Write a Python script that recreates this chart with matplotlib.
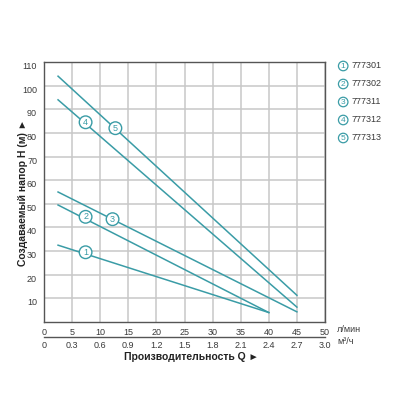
import matplotlib
matplotlib.use("Agg")
import matplotlib.pyplot as plt
import matplotlib.transforms as mtransforms

plt.rcParams["font.family"] = ["Liberation Sans", "DejaVu Sans"]

# pump curves: flow (l/min) -> head (m)
models = ["777301", "777302", "777311", "777312", "777313"]
flow_1 = [2.5, 40]
head_1 = [32.5, 4]
flow_2 = [2.5, 40]
head_2 = [49.5, 4]
flow_3 = [2.5, 45]
head_3 = [55, 4.3]
flow_4 = [2.5, 45]
head_4 = [94, 6.3]
flow_5 = [2.5, 45]
head_5 = [104, 11.3]
label_x = [7.4, 7.4, 12.2, 7.4, 12.7]
label_y = [29.5, 44.5, 43.5, 84.5, 82]

x_ticks = [0, 5, 10, 15, 20, 25, 30, 35, 40, 45, 50]
m3h_ticks = [0, 0.3, 0.6, 0.9, 1.2, 1.5, 1.8, 2.1, 2.4, 2.7, 3.0]
m3h_labels = ["0", "0.3", "0.6", "0.9", "1.2", "1.5", "1.8", "2.1", "2.4", "2.7", "3.0"]
y_ticks = [10, 20, 30, 40, 50, 60, 70, 80, 90, 100, 110]

teal = "#3a9ca6"
txt = "#3a3a3a"

fig = plt.figure(figsize=(4, 4), dpi=100)
ax = fig.add_axes([0.11, 0.195, 0.7025, 0.65])

flows = [flow_1, flow_2, flow_3, flow_4, flow_5]
heads = [head_1, head_2, head_3, head_4, head_5]
for i in range(5):
    ax.plot(flows[i], heads[i], color=teal, lw=1.1, zorder=3)
    ax.text(label_x[i], label_y[i], str(i + 1), color=teal, fontsize=6.5,
            ha="center", va="center", zorder=4,
            bbox=dict(boxstyle="circle,pad=0.2", fc="white", ec=teal, lw=1))

ax.set_xlim(0, 50)
ax.set_ylim(0, 110)
ax.set_xticks(x_ticks)
ax.set_yticks(y_ticks)
ax.grid(True, color="#c8c8c8", lw=1.1)
ax.set_axisbelow(True)
for s in ax.spines.values():
    s.set_color("#555555")
    s.set_linewidth(1)
ax.tick_params(length=0, labelsize=6.5, labelcolor=txt, pad=4)
ax.tick_params(axis="y", pad=5)
off = mtransforms.ScaledTranslation(0, -3.5 / 100, fig.dpi_scale_trans)
for lab in ax.get_yticklabels():
    lab.set_transform(lab.get_transform() + off)

# second flow scale in m3/h
sec = ax.secondary_xaxis(-0.058, functions=(lambda q: q * 0.06, lambda m: m / 0.06))
sec.set_xticks(m3h_ticks)
sec.set_xticklabels(m3h_labels)
sec.tick_params(length=0, labelsize=6.5, labelcolor=txt, pad=3)
sec.spines["bottom"].set_color("#555555")
sec.spines["bottom"].set_linewidth(1)

fig.text(0.843, 0.177, "л/мин", fontsize=6.5, color=txt, ha="left", va="center")
fig.text(0.843, 0.147, "м³/ч", fontsize=6.5, color=txt, ha="left", va="center")

fig.text(0.478, 0.108, "Производительность Q ►", fontsize=7.5, fontweight="bold",
         color="#222222", ha="center", va="center")
fig.text(0.057, 0.52, "Создаваемый напор H (м) ►", fontsize=7.5, fontweight="bold",
         color="#222222", ha="center", va="center", rotation=90)

# legend
leg_y = [0.835, 0.79, 0.745, 0.70, 0.655]
for i in range(5):
    fig.text(0.858, leg_y[i], str(i + 1), color=teal, fontsize=6,
             ha="center", va="center",
             bbox=dict(boxstyle="circle,pad=0.15", fc="white", ec=teal, lw=0.9))
    fig.text(0.88, leg_y[i], models[i], color=txt, fontsize=6.5,
             ha="left", va="center")

fig.savefig("out.png", dpi=100)
